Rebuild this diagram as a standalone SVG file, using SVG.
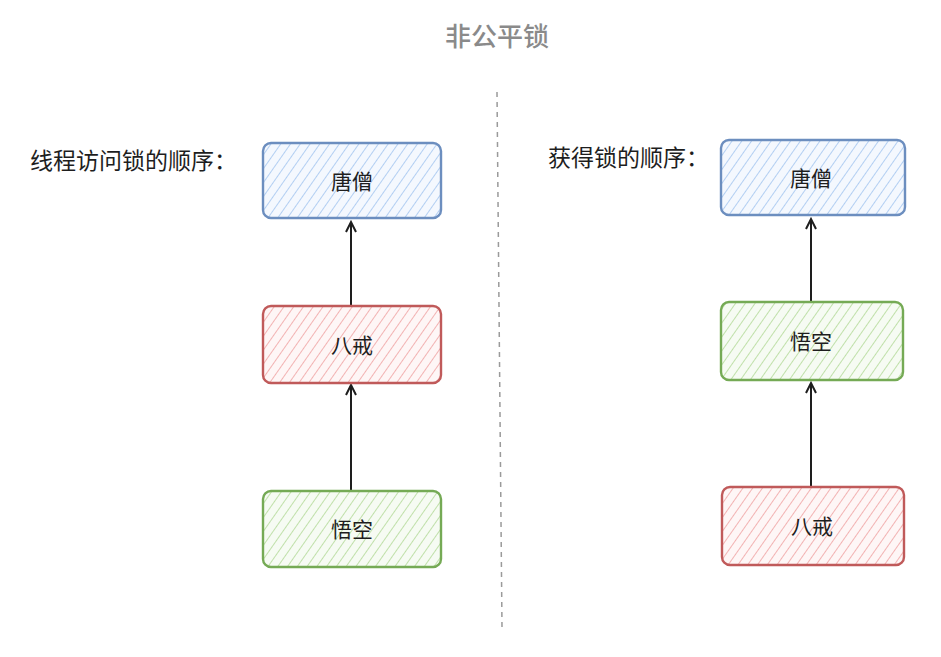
<svg xmlns="http://www.w3.org/2000/svg" width="941" height="657" viewBox="0 0 941 657">
<style>
.t{font-family:"Noto Sans CJK SC","Noto Sans",sans-serif;fill:#1e1e1e}
.lbl{font-size:23px}
.nt{font-size:21px;text-anchor:middle}
.title{font-size:26px;fill:#8a8a8a;text-anchor:middle;font-weight:500}
.blue{stroke:#6c8ebf;stroke-width:2.4;fill:url(#hb)}
.red{stroke:#c05a5a;stroke-width:2.4;fill:url(#hr)}
.green{stroke:#75aa55;stroke-width:2.4;fill:url(#hg)}
.conn{stroke:#1e1e1e;stroke-width:2;fill:none}
</style>
<defs>
<pattern id="hb" width="8" height="8" patternUnits="userSpaceOnUse" patternTransform="rotate(35)"><rect width="8" height="8" fill="#f4f8fe"/><line x1="0" y1="0" x2="0" y2="8" stroke="#b3cff2" stroke-width="2"/></pattern>
<pattern id="hr" width="8" height="8" patternUnits="userSpaceOnUse" patternTransform="rotate(35)"><rect width="8" height="8" fill="#fef6f6"/><line x1="0" y1="0" x2="0" y2="8" stroke="#f2b3b3" stroke-width="2"/></pattern>
<pattern id="hg" width="8" height="8" patternUnits="userSpaceOnUse" patternTransform="rotate(35)"><rect width="8" height="8" fill="#f6fbf3"/><line x1="0" y1="0" x2="0" y2="8" stroke="#c0e0aa" stroke-width="2"/></pattern>
<marker id="ah" markerWidth="14" markerHeight="14" refX="12" refY="7" orient="auto" markerUnits="userSpaceOnUse" viewBox="0 0 14 14"><path d="M2,2 L12,7 L2,12" fill="none" stroke="#1e1e1e" stroke-width="2"/></marker>
</defs>
<text class="t title" x="497" y="46">非公平锁</text>
<line x1="497" y1="92" x2="502" y2="628" stroke="#9a9a9a" stroke-width="1.5" stroke-dasharray="5,5"/>
<text class="t lbl" x="30" y="169">线程访问锁的顺序：</text>
<text class="t lbl" x="548" y="166">获得锁的顺序：</text>
<g id="connectors">
<line class="conn" x1="351" y1="305" x2="351" y2="222" marker-end="url(#ah)"/>
<line class="conn" x1="351" y1="490" x2="351" y2="385" marker-end="url(#ah)"/>
<line class="conn" x1="811" y1="301" x2="811" y2="219" marker-end="url(#ah)"/>
<line class="conn" x1="811" y1="487" x2="811" y2="383" marker-end="url(#ah)"/>
</g>
<g id="l-tangseng"><rect class="blue" x="263" y="143" width="178" height="75" rx="8"/><text class="t nt" x="352" y="189">唐僧</text></g>
<g id="l-bajie"><rect class="red" x="263" y="306" width="178" height="77" rx="8"/><text class="t nt" x="352" y="353">八戒</text></g>
<g id="l-wukong"><rect class="green" x="263" y="491" width="178" height="76" rx="8"/><text class="t nt" x="352" y="537">悟空</text></g>
<g id="r-tangseng"><rect class="blue" x="721" y="140" width="184" height="75" rx="8"/><text class="t nt" x="811" y="186">唐僧</text></g>
<g id="r-wukong"><rect class="green" x="721" y="302" width="182" height="78" rx="8"/><text class="t nt" x="811" y="349">悟空</text></g>
<g id="r-bajie"><rect class="red" x="722" y="487" width="182" height="78" rx="8"/><text class="t nt" x="812" y="534">八戒</text></g>
</svg>
